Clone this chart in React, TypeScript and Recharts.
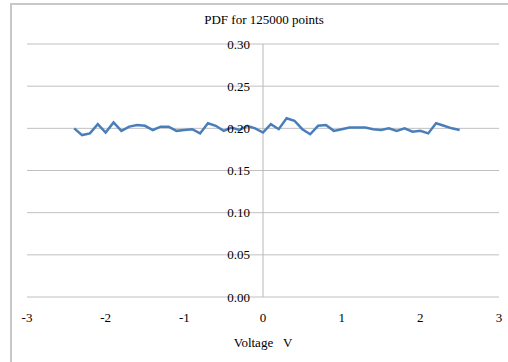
import { LineChart, Line, XAxis, YAxis, CartesianGrid, ReferenceLine } from "recharts";

// voltage (V) and estimated probability density
const voltage = [
  -2.4, -2.3, -2.2, -2.1, -2.0, -1.9, -1.8, -1.7, -1.6, -1.5,
  -1.4, -1.3, -1.2, -1.1, -1.0, -0.9, -0.8, -0.7, -0.6, -0.5,
  -0.4, -0.3, -0.2, -0.1, 0.0, 0.1, 0.2, 0.3, 0.4, 0.5,
  0.6, 0.7, 0.8, 0.9, 1.0, 1.1, 1.2, 1.3, 1.4, 1.5,
  1.6, 1.7, 1.8, 1.9, 2.0, 2.1, 2.2, 2.3, 2.4, 2.5,
];
const density = [
  0.200, 0.192, 0.194, 0.205, 0.195, 0.207, 0.197, 0.202, 0.204, 0.203,
  0.198, 0.202, 0.202, 0.197, 0.198, 0.199, 0.194, 0.206, 0.203, 0.197,
  0.201, 0.198, 0.203, 0.200, 0.195, 0.205, 0.199, 0.212, 0.209, 0.199,
  0.193, 0.203, 0.204, 0.197, 0.199, 0.201, 0.201, 0.201, 0.199, 0.198,
  0.200, 0.197, 0.200, 0.196, 0.197, 0.194, 0.206, 0.203, 0.200, 0.198,
];
const xTicks = [-3, -2, -1, 0, 1, 2, 3];
const yTicks = [0, 0.05, 0.1, 0.15, 0.2, 0.25, 0.3];

const title = "PDF for 125000 points";
const xTitle = "Voltage\u00a0\u00a0\u00a0V";

const W = 508;
const H = 362;
const PLOT_LEFT = 27;
const PLOT_RIGHT = 499;
const FONT = "Liberation Serif, serif";
// x position of the vertical axis (voltage = 0), labels sit just left of it
const ZERO_X = (PLOT_LEFT + PLOT_RIGHT) / 2;

const data = voltage.map((v, i) => ({ voltage: v, pdf: density[i] }));

function YTick(props: any) {
  const { y, payload } = props;
  return (
    <text x={ZERO_X - 13} y={y} dy={4.5} textAnchor="end" fontSize={13} fontFamily={FONT} fill="#000">
      {Number(payload.value).toFixed(2)}
    </text>
  );
}

function XTick(props: any) {
  const { x, y, payload } = props;
  return (
    <text x={x} y={y} dy={25} textAnchor="middle" fontSize={13} fontFamily={FONT} fill="#000">
      {payload.value}
    </text>
  );
}

export default function App() {
  return (
    <div style={{ position: "absolute", left: 0, top: 0, width: W, height: H, background: "#fff", overflow: "hidden" }}>
      <div style={{ position: "absolute", left: 10, top: 3, width: W, height: H, borderLeft: "2px solid #c8c8c8", borderTop: "2px solid #c8c8c8" }} />
      <div style={{ position: "absolute", left: 0, width: 528, top: 12, textAlign: "center", fontFamily: FONT, fontSize: 13, color: "#000" }}>
        {title}
      </div>
      <div style={{ position: "absolute", left: 0, width: 526, top: 335, textAlign: "center", fontFamily: FONT, fontSize: 13, color: "#000" }}>
        {xTitle}
      </div>
      <LineChart
        width={W}
        height={H}
        data={data}
        margin={{ top: 44, right: W - PLOT_RIGHT, bottom: 15, left: PLOT_LEFT - 1 }}
        style={{ position: "absolute", left: 0, top: 0 }}
      >
        <CartesianGrid vertical={false} stroke="#c0c0c0" strokeWidth={1} />
        <XAxis
          type="number"
          dataKey="voltage"
          domain={[-3, 3]}
          ticks={xTicks}
          axisLine={false}
          tickLine={false}
          tickSize={0}
          tickMargin={0}
          height={50}
          tick={XTick}
        />
        <YAxis
          type="number"
          domain={[0, 0.3]}
          ticks={yTicks}
          width={1}
          axisLine={false}
          tickLine={false}
          tick={YTick}
        />
        <ReferenceLine x={0} stroke="#b8b8b8" strokeWidth={1} />
        <Line type="linear" dataKey="pdf" stroke="#4a7ebb" strokeWidth={2.5} dot={false} isAnimationActive={false} />
      </LineChart>
    </div>
  );
}
